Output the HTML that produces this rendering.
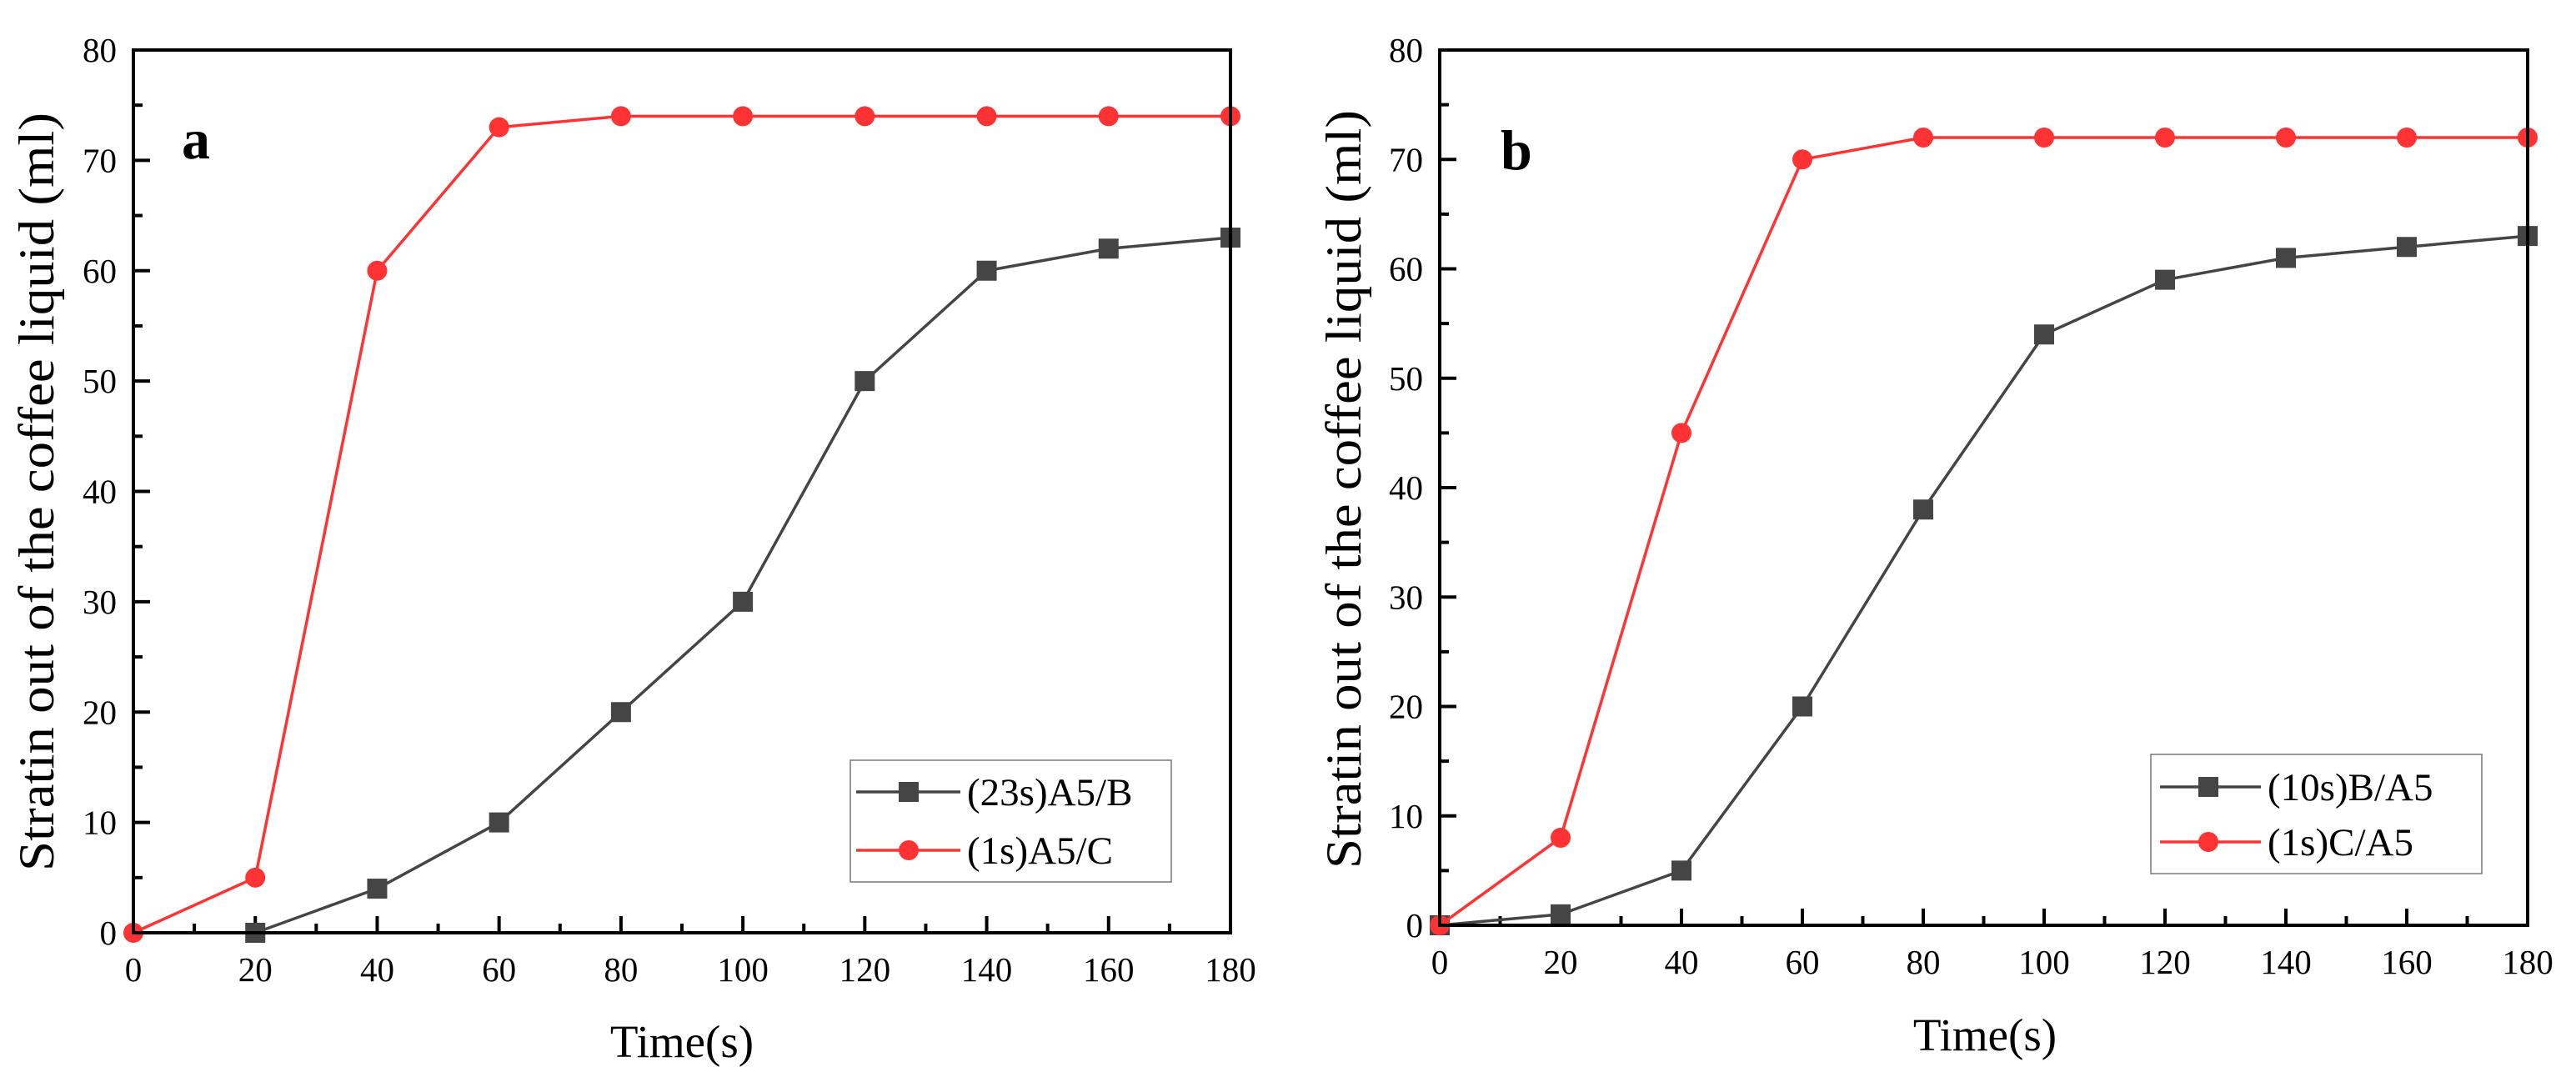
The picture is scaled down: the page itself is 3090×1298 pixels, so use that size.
<!DOCTYPE html>
<html><head><meta charset="utf-8">
<style>
html,body{margin:0;padding:0;background:#fff;}
svg{display:block;font-family:"Liberation Serif",serif;}
</style></head>
<body>
<svg id="chart" width="3090" height="1298" viewBox="0 0 3090 1298" xmlns="http://www.w3.org/2000/svg"></svg>
<script>
const xTicks = [0,20,40,60,80,100,120,140,160,180];
const yTicks = [0,10,20,30,40,50,60,70,80];
const aTimesBlack = [20,40,60,80,100,120,140,160,180];
const aBlack = [0,4,10,20,30,50,60,62,63];
const aTimesRed = [0,20,40,60,80,100,120,140,160,180];
const aRed = [0,5,60,73,74,74,74,74,74,74];
const bTimes = [0,20,40,60,80,100,120,140,160,180];
const bBlack = [0,1,5,20,38,54,59,61,62,63];
const bRed = [0,8,45,70,72,72,72,72,72,72];
const aLegend = ["(23s)A5/B","(1s)A5/C"];
const bLegend = ["(10s)B/A5","(1s)C/A5"];

const NS="http://www.w3.org/2000/svg";
const svg=document.getElementById('chart');
function mk(tag,attrs,parent){const e=document.createElementNS(NS,tag);for(const k in attrs)e.setAttribute(k,attrs[k]);(parent||svg).appendChild(e);return e;}

function panel(cfg){
  const g=mk('g',{});
  
  
  const L=cfg.L,R=cfg.R,T=cfg.T,B=cfg.B;
  const sx=v=>L+(v-0)/180*(R-L);
  const sy=v=>B-(v-0)/80*(B-T);
  for(let v=0;v<=180;v+=10){
    const major=v%20===0;
    const t=mk('line',{x1:sx(v),x2:sx(v),y1:B,y2:B-(major?20:11),stroke:'#000','stroke-width':4},g);
    
    
  }
  for(let v=0;v<=80;v+=5){
    const major=v%10===0;
    const t=mk('line',{x1:L,x2:L+(major?20:11),y1:sy(v),y2:sy(v),stroke:'#000','stroke-width':4},g);
    
    
  }
  xTicks.forEach(v=>{
    const t=mk('text',{x:sx(v),y:B+58,'text-anchor':'middle','font-size':41,fill:'#000'},g);
    t.textContent=v;
    
    
  });
  yTicks.forEach(v=>{
    const t=mk('text',{x:L-20,y:sy(v)+14,'text-anchor':'end','font-size':41,fill:'#000'},g);
    t.textContent=v;
    
    
  });
  const xt=mk('text',{x:cfg.xtX,y:cfg.xtY,'text-anchor':'middle','font-size':55,fill:'#000'},g);
  xt.textContent='Time(s)';
  
  
  const yt=mk('text',{x:0,y:0,'text-anchor':'middle','font-size':60,fill:'#000',textLength:910,lengthAdjust:'spacingAndGlyphs',transform:`translate(${cfg.ytX},${cfg.ytY}) rotate(-90)`},g);
  yt.textContent='Stratin out of the coffee liquid (ml)';
  
  
  const pl=mk('text',{x:cfg.lblX,y:cfg.lblY,'font-size':68,'font-weight':'bold',fill:'#000'},g);
  pl.textContent=cfg.id;
  
  
  function series(xs,ys,color,shape,name,lw){
    const sg=mk('g',{},g);
    
    
    const pts=xs.map((x,i)=>sx(x)+','+sy(ys[i])).join(' ');
    mk('polyline',{points:pts,fill:'none',stroke:color,'stroke-width':lw},sg);
    xs.forEach((x,i)=>{
      let m;
      if(shape==='sq') m=mk('rect',{x:sx(x)-12,y:sy(ys[i])-12,width:24,height:24,fill:color},sg);
      else m=mk('circle',{cx:sx(x),cy:sy(ys[i]),r:12,fill:color},sg);
      
      
    });
  }
  series(cfg.bx,cfg.by,'#454545','sq','black-series',3.5);
  series(cfg.rx,cfg.ry,'#ff3333','ci','red-series',3.5);
  const fr=mk('rect',{x:L,y:T,width:R-L,height:B-T,fill:'none',stroke:'#000','stroke-width':4},g);
  
  
  const lg=mk('g',{},g);
  
  
  const Lg=cfg.leg;
  mk('rect',{x:Lg.x,y:Lg.y,width:Lg.w,height:Lg.h,fill:'#fff',stroke:'#777','stroke-width':1.5},lg);
  [['#454545','sq'],['#ff3333','ci']].forEach((s,i)=>{
    const ey=Lg.e[i];
    const en=mk('g',{},lg);
    
    
    mk('line',{x1:Lg.l1,x2:Lg.l2,y1:ey,y2:ey,stroke:s[0],'stroke-width':3.5},en);
    if(s[1]==='sq') mk('rect',{x:Lg.m-12,y:ey-12,width:24,height:24,fill:s[0]},en);
    else mk('circle',{cx:Lg.m,cy:ey,r:12,fill:s[0]},en);
    const t=mk('text',{x:Lg.tx,y:ey+16,'font-size':47,fill:'#000'},en);
    t.textContent=cfg.legText[i];
  });
}

panel({id:'a',L:160,R:1476,T:60,B:1119,xtX:818,xtY:1268,ytX:64,ytY:590,lblX:218,lblY:190,
  bx:aTimesBlack,by:aBlack,rx:aTimesRed,ry:aRed,legText:aLegend,
  leg:{x:1020,y:912,w:385,h:146,e:[950,1020],l1:1027,l2:1152,m:1090,tx:1160}});
panel({id:'b',L:1727,R:3032,T:60,B:1110,xtX:2381,xtY:1260,ytX:1632,ytY:587,lblX:1800,lblY:203,
  bx:bTimes,by:bBlack,rx:bTimes,ry:bRed,legText:bLegend,
  leg:{x:2580,y:905,w:397,h:143,e:[944,1010],l1:2591,l2:2712,m:2649,tx:2720}});
</script>
</body></html>
